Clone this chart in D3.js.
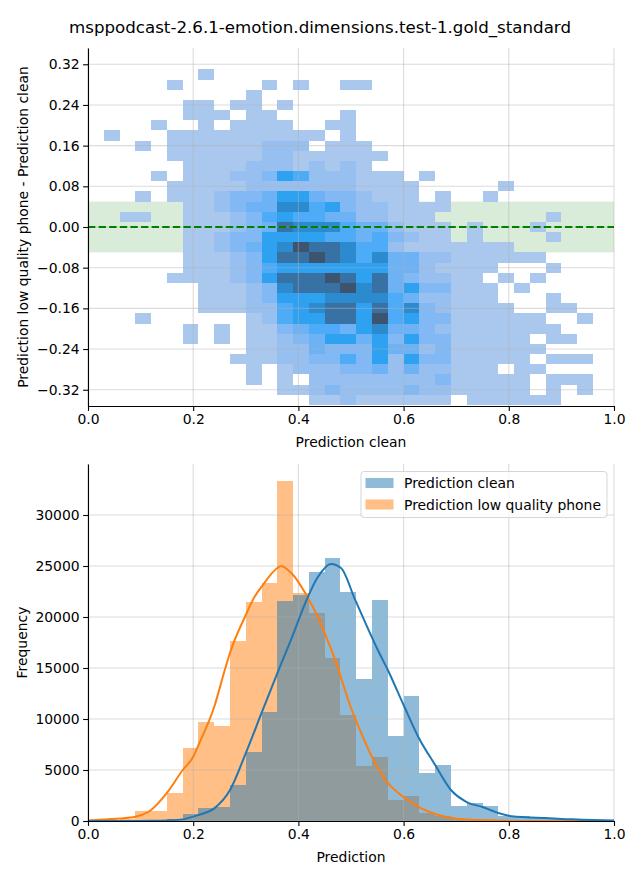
<!DOCTYPE html>
<html><head><meta charset="utf-8">
<script src="https://cdn.jsdelivr.net/npm/d3@7"></script>
<style>body{margin:0;background:#fff}svg{display:block}text{font-family:"DejaVu Sans",sans-serif;fill:#000}</style>
</head><body><svg id="c" width="640" height="880"></svg>
<script>
// ---------------- DATA ----------------
const title = "msppodcast-2.6.1-emotion.dimensions.test-1.gold_standard";
const topXLabel = "Prediction clean";
const topYLabel = "Prediction low quality phone - Prediction clean";
const bottomXLabel = "Prediction";
const bottomYLabel = "Frequency";
const seriesNames = ["Prediction clean", "Prediction low quality phone"];

// 2D histogram: x bins of 0.03 starting at 0, y bins of 0.02 centred on these values
const heatXBinWidth = 0.03;
const heatYBinHeight = 0.02;
const heatRowCenters = [0.32,0.30,0.28,0.26,0.24,0.22,0.20,0.18,0.16,0.14,0.12,0.10,0.08,0.06,0.04,0.02,0.00,
  -0.02,-0.04,-0.06,-0.08,-0.10,-0.12,-0.14,-0.16,-0.18,-0.20,-0.22,-0.24,-0.26,-0.28,-0.30,-0.32,-0.34];
// one char per x bin (33 bins); '.' = empty, digit = count level (spaces only for readability)
const heatRows = [
"..... ..... ..... ..... ..... ..... ...",
"..... ..1.. ..... ..... ..... ..... ...",
"..... 1.... .1.1. .11.. ..... ..... ...",
"..... ..... 1.... ..... ..... ..... ...",
"..... .11.1 1.1.. ..... ..... ..... ...",
"..... .111. 11... .1... ..... ..... ...",
"....1 ..1.1 111.. 11... ..... ..... ...",
".1... 11111 11111 .1... ..... ..... ...",
"...1. 11111 1222. 111.. ..... ..... ...",
"..... 11111 12211 1111. ..... ..... ...",
"..... .1111 22212 121.. ..... ..... ...",
"....1 .1112 23652 22111 .1... ..... ...",
"..... 11111 22222 22111 1.... .1... ...",
"...1. 11123 34664 33211 1.1.. 1.... ...",
"..... .1123 44775 63221 111.. ..... ...",
"..11. .1112 35655 44221 11... ....1 ...",
"..... .1112 34877 75442 111.1 ...1. ...",
"..... .1123 36666 55453 211.1 ....1 ...",
"..... .1123 46798 87552 11111 11... ...",
"..... .1112 36889 87574 42211 1111. ...",
"..... .1112 35666 66664 42111 1...1 ...",
"..... 11112 36888 98684 32211 .1.1. ...",
"..... ..111 23788 89784 63311 1.1.. ...",
"..... ..111 23666 77775 42211 1...1 ...",
"..... ..111 22567 88685 73211 11..1 1..",
"...1. ..... 12566 88695 63311 1111. .1.",
"..... .1.1. 11345 54674 43211 11111 ...",
"..... .1.1. 11234 66463 63311 111.1 1..",
"..... ..... 11224 33364 42311 1111. ...",
"..... ....1 11223 35362 63311 111.1 11.",
"..... ..... 1.122 23342 42211 1.11. ...",
"..... ..... 1.1.2 22222 22311 111.1 11.",
"..... ..... ..112 32222 32211 111.1 .1.",
"..... ..... ....1 12111 111.1 11111 ..."
];
const levelCounts = [0, 1, 8, 15, 21, 28, 36, 55, 75, 100];
const topXTicks = [0, 0.2, 0.4, 0.6, 0.8, 1.0];
const topYTicks = [0.32, 0.24, 0.16, 0.08, 0.00, -0.08, -0.16, -0.24, -0.32];
const bandLimits = [-0.05, 0.05];

// 1D histograms, bins of 0.03 starting at 0
const histBinWidth = 0.03;
const cleanCounts = [0,0,0,20,100,150,700,1300,1400,3530,6760,10690,21570,22150,24400,25780,22450,13920,21700,8330,12250,4700,5490,1470,1760,1470,490,450,300,200,150,100,50];
const phoneCounts = [30,80,200,980,980,2750,7150,9700,9300,17650,21470,23330,33330,22350,20390,16000,10400,5390,6270,2060,2450,780,490,200,100,60,30,20,10,0,0,0,0];
const cleanKde = [[0,0],[0.06,0],[0.09,5],[0.12,20],[0.15,60],[0.18,160],[0.21,590],[0.24,1240],[0.27,3040],[0.30,6660],[0.33,10590],[0.36,14500],[0.39,18300],[0.413,21370],[0.437,23920],[0.462,25200],[0.481,24800],[0.508,21670],[0.551,16760],[0.57,14800],[0.60,11370],[0.629,8140],[0.66,5490],[0.69,3040],[0.72,1860],[0.75,1370],[0.78,780],[0.81,430],[0.84,350],[0.87,300],[0.90,200],[0.93,150],[0.96,100],[1.0,50]];
const phoneKde = [[0,60],[0.03,150],[0.06,250],[0.09,420],[0.12,1080],[0.15,2750],[0.18,5000],[0.20,6300],[0.21,7450],[0.24,11200],[0.26,14800],[0.27,16500],[0.30,20200],[0.317,22000],[0.33,22970],[0.36,24800],[0.367,25000],[0.38,24600],[0.39,24120],[0.413,22350],[0.437,20000],[0.45,18430],[0.47,15780],[0.498,11370],[0.517,8920],[0.54,6270],[0.57,3730],[0.60,2350],[0.629,1370],[0.66,690],[0.69,290],[0.72,150],[0.78,50],[0.85,10],[1.0,0]];
const histXTicks = [0, 0.2, 0.4, 0.6, 0.8, 1.0];
const histYTicks = [0, 5000, 10000, 15000, 20000, 25000, 30000];

// ---------------- HUSL colormap (seaborn style from C0) ----------------
const M=[[3.240969941904521,-1.537383177570093,-0.498610760293],[-0.96924363628087,1.87596750150772,0.041555057407175],[0.055630079696993,-0.20397695888897,1.056971514242878]];
const MINV=[[0.41239079926595,0.35758433938387,0.18048078840183],[0.21263900587151,0.71516867876775,0.072192315360733],[0.019330818715591,0.11919477979462,0.95053215224966]];
const refU=0.19783000664283, refV=0.46831999493879, kappa=903.2962962, eps=0.0088564516;
function bounds(L){const s1=Math.pow(L+16,3)/1560896;const s2=s1>eps?s1:L/kappa;const r=[];for(let c=0;c<3;c++){const [m1,m2,m3]=M[c];for(let t=0;t<2;t++){const top1=(284517*m1-94839*m3)*s2;const top2=(838422*m3+769860*m2+731718*m1)*L*s2-769860*t*L;const bot=(632260*m3-126452*m2)*s2+126452*t;r.push([top1/bot,top2/bot]);}}return r;}
function maxChroma(L,H){const hr=H/360*Math.PI*2;let mn=Infinity;for(const [s,i] of bounds(L)){const len=i/(Math.sin(hr)-s*Math.cos(hr));if(len>=0)mn=Math.min(mn,len);}return mn;}
function huslToRgb(H,S,L){if(L>99.9999999)return[1,1,1];if(L<1e-8)return[0,0,0];const C=maxChroma(L,H)/100*S;const hr=H/180*Math.PI;const U=C*Math.cos(hr),V=C*Math.sin(hr);const vu=U/(13*L)+refU,vv=V/(13*L)+refV;const Y=L<=8?L/kappa:Math.pow((L+16)/116,3);const X=-(9*Y*vu)/((vu-4)*vv-vu*vv);const Z=(9*Y-15*vv*Y-vv*X)/(3*vv);return M.map(r=>{const v=r[0]*X+r[1]*Y+r[2]*Z;const c=v<=0.0031308?12.92*v:1.055*Math.pow(v,1/2.4)-0.055;return Math.min(1,Math.max(0,c));});}
function rgbToHusl(r,g,b){const lin=[r,g,b].map(c=>c>0.04045?Math.pow((c+0.055)/1.055,2.4):c/12.92);const [X,Y,Z]=MINV.map(w=>w[0]*lin[0]+w[1]*lin[1]+w[2]*lin[2]);const L=Y<=eps?Y*kappa:116*Math.cbrt(Y)-16;const d=X+15*Y+3*Z;const U=13*L*(4*X/d-refU),V=13*L*(9*Y/d-refV);const C=Math.hypot(U,V);let H=Math.atan2(V,U)*180/Math.PI;if(H<0)H+=360;return[H,C/maxChroma(L,H)*100,L];}
const seed=rgbToHusl(0x1f/255,0x77/255,0xb4/255);
const ramp=[];for(let i=0;i<256;i++){const xx=-1+2*i/293;const c=huslToRgb(seed[0],seed[1]*Math.cos(xx),35+45*i/255);ramp.push(d3.rgb(c[0]*255,c[1]*255,c[2]*255).formatHex());}
const cmapColors=ramp.slice().reverse();
const cmap=t=>cmapColors[Math.max(0,Math.min(255,Math.floor(t*256)))];

// ---------------- DRAW ----------------
const svg=d3.select("#c");
const FS=13.9, X0=88, X1=614;
const fmtMinus=s=>s.replace("-","\u2212");

svg.append("text").attr("x",320).attr("y",33).attr("text-anchor","middle").style("font-size","16.67px").text(title);

function styleAxis(g){
  g.selectAll("text").style("font-size",FS+"px").style("font-family","DejaVu Sans").attr("fill","#000");
  g.selectAll("line").attr("stroke","#000").attr("stroke-width",1.1);
  g.select(".domain").attr("stroke","#000").attr("stroke-width",1.1);
}
function grid(g,xs,ys,xt,yt,top,bottom){
  const gg=g.append("g").attr("stroke","#b0b0b0").attr("stroke-opacity",0.45).attr("stroke-width",1.1);
  xt.forEach(v=>gg.append("line").attr("x1",xs(v)).attr("x2",xs(v)).attr("y1",top).attr("y2",bottom));
  yt.forEach(v=>gg.append("line").attr("x1",X0).attr("x2",X1).attr("y1",ys(v)).attr("y2",ys(v)));
}

// ---- top: 2D histogram ----
const TT=48, TB=406;
const xT=d3.scaleLinear().domain([0,1]).range([X0,X1]);
const yT=d3.scaleLinear().domain([-0.352,0.352]).range([TB,TT]);
const gT=svg.append("g");
gT.append("rect").attr("x",X0).attr("width",X1-X0).attr("y",yT(bandLimits[1])).attr("height",yT(bandLimits[0])-yT(bandLimits[1])).attr("fill","#008000").attr("fill-opacity",0.15);
const cells=[];
heatRows.forEach((s,i)=>{s.replace(/ /g,"").split("").forEach((ch,c)=>{if(ch!=="."){cells.push({x:c*heatXBinWidth,y:heatRowCenters[i],n:levelCounts[+ch]});}});});
const maxN=d3.max(cells,d=>d.n);
gT.append("g").selectAll("rect").data(cells).join("rect")
  .attr("x",d=>xT(d.x)).attr("width",d=>xT(d.x+heatXBinWidth)-xT(d.x))
  .attr("y",d=>yT(d.y+heatYBinHeight/2)).attr("height",d=>yT(d.y-heatYBinHeight/2)-yT(d.y+heatYBinHeight/2))
  .attr("fill",d=>cmap(d.n/maxN)).attr("shape-rendering","crispEdges");
grid(gT,xT,yT,topXTicks,topYTicks,TT,TB);
gT.append("line").attr("x1",X0).attr("x2",X1).attr("y1",yT(0)).attr("y2",yT(0)).attr("stroke","#008000").attr("stroke-width",2).attr("stroke-dasharray","7.4,3.2");
const axTx=gT.append("g").attr("transform",`translate(0,${TB})`).call(d3.axisBottom(xT).tickValues(topXTicks).tickSize(4.9).tickSizeOuter(0).tickPadding(3.5).tickFormat(d3.format(".1f")));
styleAxis(axTx);
const axTy=gT.append("g").attr("transform",`translate(${X0},0)`).call(d3.axisLeft(yT).tickValues(topYTicks).tickSize(4.9).tickSizeOuter(0).tickPadding(3.5).tickFormat(d=>fmtMinus(d3.format(".2f")(d))));
styleAxis(axTy);
gT.append("text").attr("x",(X0+X1)/2).attr("y",446.5).attr("text-anchor","middle").style("font-size",FS+"px").text(topXLabel);
gT.append("text").attr("transform",`translate(28,${(TT+TB)/2}) rotate(-90)`).attr("text-anchor","middle").style("font-size",FS+"px").text(topYLabel);

// ---- bottom: histograms ----
const BT=464, BB=821;
const xB=d3.scaleLinear().domain([0,1]).range([X0,X1]);
const yB=d3.scaleLinear().domain([0,35000]).range([BB,BT]);
const gB=svg.append("g");
function bars(data,color){
  gB.append("g").selectAll("rect").data(data.map((v,k)=>({k,v})).filter(d=>d.v>0)).join("rect")
    .attr("x",d=>xB(d.k*histBinWidth)).attr("width",d=>xB((d.k+1)*histBinWidth)-xB(d.k*histBinWidth))
    .attr("y",d=>yB(d.v)).attr("height",d=>BB-yB(d.v))
    .attr("fill",color).attr("fill-opacity",0.5).attr("shape-rendering","crispEdges");
}
bars(phoneCounts,"#ff7f0e");
bars(cleanCounts,"#1f77b4");
grid(gB,xB,yB,histXTicks,histYTicks,BT,BB);
const line=d3.line().x(d=>xB(d[0])).y(d=>yB(d[1])).curve(d3.curveMonotoneX);
gB.append("path").attr("d",line(phoneKde)).attr("fill","none").attr("stroke","#ff7f0e").attr("stroke-width",2);
gB.append("path").attr("d",line(cleanKde)).attr("fill","none").attr("stroke","#1f77b4").attr("stroke-width",2);
const axBx=gB.append("g").attr("transform",`translate(0,${BB})`).call(d3.axisBottom(xB).tickValues(histXTicks).tickSize(4.9).tickSizeOuter(0).tickPadding(3.5).tickFormat(d3.format(".1f")));
styleAxis(axBx);
const axBy=gB.append("g").attr("transform",`translate(${X0},0)`).call(d3.axisLeft(yB).tickValues(histYTicks).tickSize(4.9).tickSizeOuter(0).tickPadding(3.5).tickFormat(d3.format("d")));
styleAxis(axBy);
gB.append("text").attr("x",(X0+X1)/2).attr("y",862).attr("text-anchor","middle").style("font-size",FS+"px").text(bottomXLabel);
gB.append("text").attr("transform",`translate(26.5,${(BT+BB)/2}) rotate(-90)`).attr("text-anchor","middle").style("font-size",FS+"px").text(bottomYLabel);

// legend
const lg=gB.append("g");
lg.append("rect").attr("x",361).attr("y",471.5).attr("width",246).attr("height",46).attr("rx",3)
  .attr("fill","#fff").attr("fill-opacity",0.8).attr("stroke","#cccccc").attr("stroke-opacity",0.8);
[["#1f77b4",seriesNames[0]],["#ff7f0e",seriesNames[1]]].forEach((d,i)=>{
  lg.append("rect").attr("x",365.5).attr("y",478+i*21.5).attr("width",28).attr("height",10).attr("fill",d[0]).attr("fill-opacity",0.5);
  lg.append("text").attr("x",404).attr("y",488+i*21.5).style("font-size",FS+"px").text(d[1]);
});
</script></body></html>
